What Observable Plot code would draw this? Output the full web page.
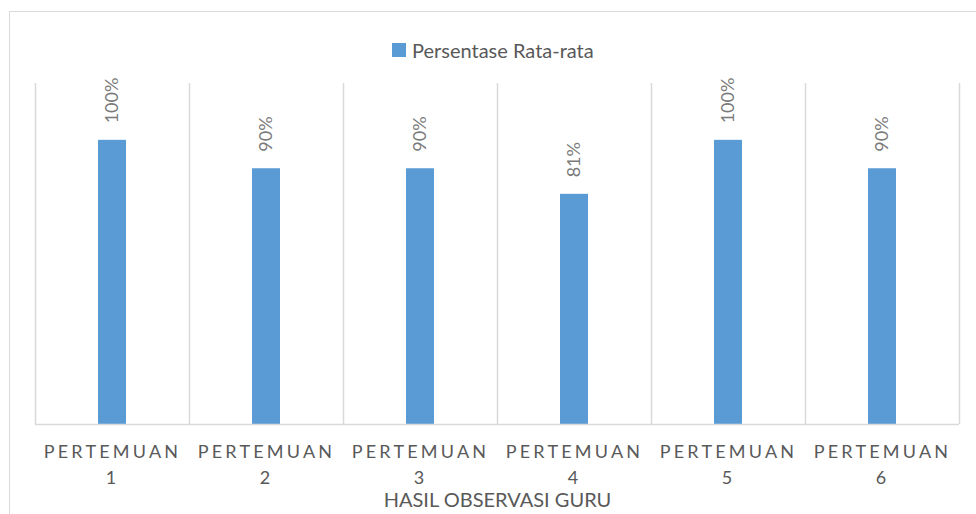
<!DOCTYPE html>
<html>
<head>
<meta charset="utf-8">
<script src="https://cdn.jsdelivr.net/npm/d3@7"></script>
<script src="https://cdn.jsdelivr.net/npm/@observablehq/plot@0.6"></script>
<style>
  html, body { margin: 0; padding: 0; background: #fff; overflow: hidden; }
  #wrap { position: relative; width: 976px; height: 514px; overflow: hidden; font-family: Lato, sans-serif; }
  #border { position: absolute; left: 9px; top: 11px; width: 1200px; height: 800px; border: 1px solid #d9d9d9; box-sizing: border-box; }
  #chart { position: absolute; left: 0; top: 0; }
  #legend { position: absolute; left: 392px; top: 33px; }
  #chart g[aria-label="x-axis tick label"] text { letter-spacing: 3.2px; }
  #chart g[aria-label="x-axis label"] text { font-size: 20px; }
  #legend div, #legend span { font-family: Lato, sans-serif !important; font-size: 20px !important; color: #595959 !important; line-height: 24px !important; }
  #legend span svg { margin-right: 6px !important; }
</style>
</head>
<body>
<div id="wrap">
  <div id="border"></div>
  <div id="chart"></div>
  <div id="legend"></div>
</div>
<script>
const categories = ["PERTEMUAN 1", "PERTEMUAN 2", "PERTEMUAN 3", "PERTEMUAN 4", "PERTEMUAN 5", "PERTEMUAN 6"];
const values = [1.00, 0.90, 0.90, 0.81, 1.00, 0.90];
const seriesName = "Persentase Rata-rata";
const axisTitle = "HASIL OBSERVASI GURU";
const yMax = 1.2;
const barColor = "#5B9BD5";

const data = categories.map((c, i) => ({cat: c, value: values[i]}));
const fmt = d3.format(".0%");

const W = 976, H = 514, mL = 35, mR = 17, mT = 83, mB = 90;
const bw = (W - mL - mR) / categories.length;
const barW = 28;
const inset = (bw - barW) / 2;

const chart = Plot.plot({
  width: W, height: H,
  marginLeft: mL, marginRight: mR, marginTop: mT, marginBottom: mB,
  style: {fontFamily: "Lato, sans-serif", background: "transparent", overflow: "visible"},
  x: {domain: categories, padding: 0},
  y: {domain: [0, yMax], axis: null},
  marks: [
    Plot.ruleX(categories, {x: d => d, y1: 0, y2: yMax, dx: -bw / 2, stroke: "#d9d9d9", strokeWidth: 1.5}),
    Plot.ruleX(categories.slice(-1), {x: d => d, y1: 0, y2: yMax, dx: bw / 2, stroke: "#d9d9d9", strokeWidth: 1.5}),
    Plot.barY(data, {x: "cat", y: "value", fill: barColor, insetLeft: inset, insetRight: inset}),
    Plot.ruleY([0], {stroke: "#d9d9d9", strokeWidth: 1.5}),
    Plot.text(data, {x: "cat", y: "value", text: d => fmt(d.value), rotate: -90, textAnchor: "start", dy: -17, fontSize: 18, fill: "#7a7a7a"}),
    Plot.axisX({
      tickSize: 0, tickPadding: 15, fontSize: 18, lineHeight: 1.45,
      tickFormat: d => d.replace(" ", "\n"),
      fill: "#595959",
      label: axisTitle, labelAnchor: "center", labelOffset: 82
    })
  ]
});
document.getElementById("chart").appendChild(chart);

const legend = Plot.legend({
  color: {type: "ordinal", domain: [seriesName], range: [barColor]},
  swatchSize: 14
});
document.getElementById("legend").appendChild(legend);
</script>
</body>
</html>
